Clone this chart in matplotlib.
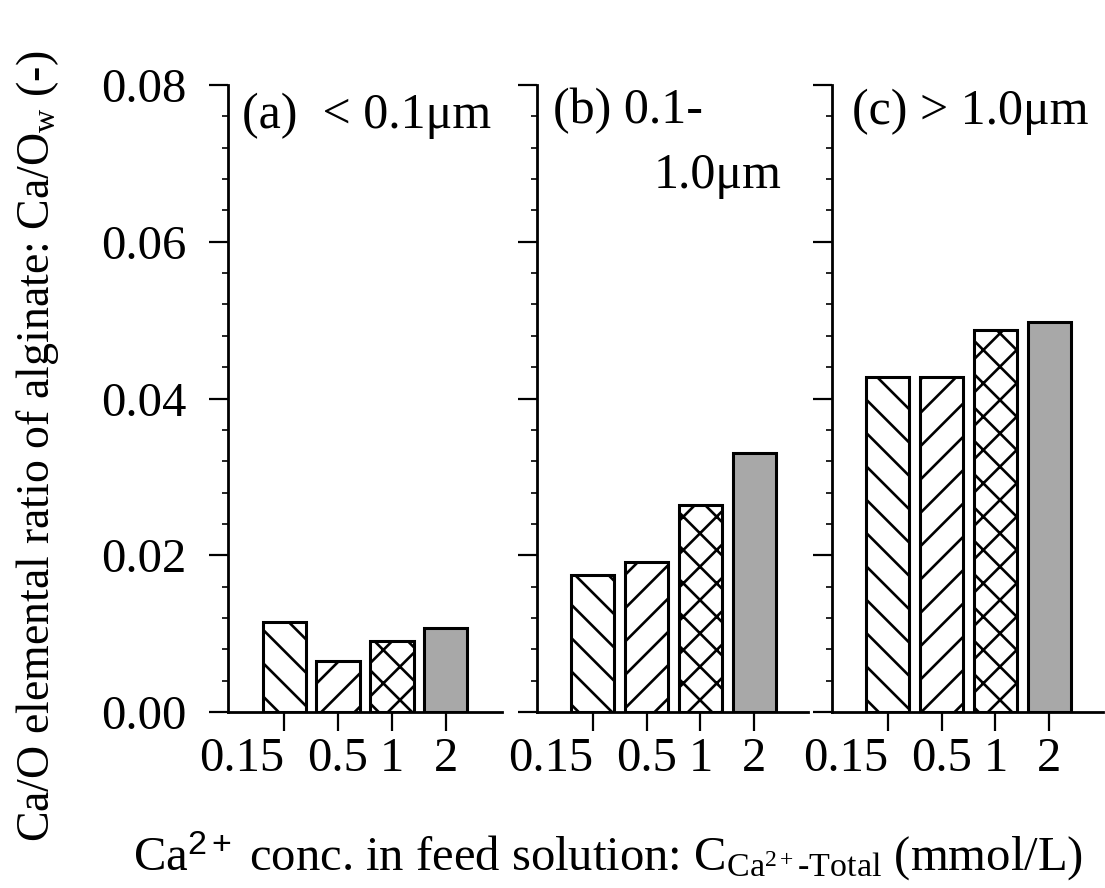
import matplotlib.pyplot as plt
from matplotlib.ticker import MultipleLocator, FormatStrFormatter

plt.rcParams['font.family'] = 'Liberation Serif'
plt.rcParams['mathtext.fontset'] = 'custom'
plt.rcParams['mathtext.rm'] = 'Liberation Serif'
plt.rcParams['mathtext.it'] = 'Liberation Serif:italic'
plt.rcParams['mathtext.sf'] = 'Liberation Sans'
plt.rcParams['hatch.linewidth'] = 1.9

# Ca2+ concentration in feed (mmol/L) and Ca/O ratio per size fraction
concs = ['0.15', '0.5', '1', '2']
ratio_small = [0.0115, 0.0065, 0.0091, 0.0107]
ratio_mid = [0.0175, 0.0191, 0.0264, 0.0331]
ratio_large = [0.0428, 0.0428, 0.0487, 0.0498]

hatches = ['\\', '/', 'x', '']
faces = ['white', 'white', 'white', '#a8a8a8']

W, H = 1105, 888
fig = plt.figure(figsize=(W / 100, H / 100), dpi=100)

# panel boxes in pixels: left, right
boxes = [(228, 502), (537, 808), (832, 1103)]
top_px, bot_px = 85, 712

axes = []
for (x0, x1) in boxes:
    ax = fig.add_axes([x0 / W, 1 - bot_px / H, (x1 - x0) / W, (bot_px - top_px) / H])
    axes.append(ax)

x = list(range(len(concs)))
for ax, vals in zip(axes, [ratio_small, ratio_mid, ratio_large]):
    bars = ax.bar(x, vals, width=0.8, color=faces, edgecolor='black', linewidth=2.2)
    for b, h in zip(bars, hatches):
        b.set_hatch(h)
    ax.set_ylim(0, 0.08)
    ax.set_xlim(-1.04, 4.0)
    ax.spines['top'].set_visible(False)
    ax.spines['right'].set_visible(False)
    ax.spines['left'].set_linewidth(2)
    ax.spines['bottom'].set_linewidth(2)
    ax.yaxis.set_major_locator(MultipleLocator(0.02))
    ax.yaxis.set_minor_locator(MultipleLocator(0.004))
    ax.yaxis.set_major_formatter(FormatStrFormatter('%.2f'))
    ax.tick_params(axis='y', which='major', direction='out', length=14, width=1.6,
                   labelsize=35, pad=16)
    ax.tick_params(axis='y', which='minor', direction='out', length=4, width=1.2)
    ax.set_xticks(x)
    ax.set_xticklabels(concs)
    ax.tick_params(axis='x', direction='out', length=14, width=1.6, labelsize=35, pad=4)
    ax.xaxis.get_majorticklabels()[0].set_horizontalalignment('right')
    ax.set_facecolor('none')

axes[0].set_xlim(-1.04, 4.04)
axes[1].tick_params(axis='y', labelleft=False)
axes[2].tick_params(axis='y', labelleft=False)

# size fraction labels
axes[0].text(0.051, 0.988, '(a)  < 0.1μm', transform=axes[0].transAxes,
             fontsize=36, va='top', ha='left')
axes[1].text(0.059, 0.995, '(b) 0.1-', transform=axes[1].transAxes,
             fontsize=36, va='top', ha='left')
axes[1].text(0.904, 0.893, '1.0μm', transform=axes[1].transAxes,
             fontsize=36, va='top', ha='right')
axes[2].text(0.074, 0.995, '(c) > 1.0μm', transform=axes[2].transAxes,
             fontsize=36, va='top', ha='left')

fig.text(0.034, 0.497, r'Ca/O elemental ratio of alginate: Ca/O$_\mathrm{w}$ (-)',
         rotation=90, fontsize=33, ha='center', va='center')
fig.text(0.55, 0.037,
         r'Ca$^{\mathsf{2+}}$ conc. in feed solution: C$_{\mathrm{Ca}^{2+}\text{-Total}}$ (mmol/L)',
         fontsize=35, ha='center', va='center')

fig.savefig('out.png', dpi=100)
